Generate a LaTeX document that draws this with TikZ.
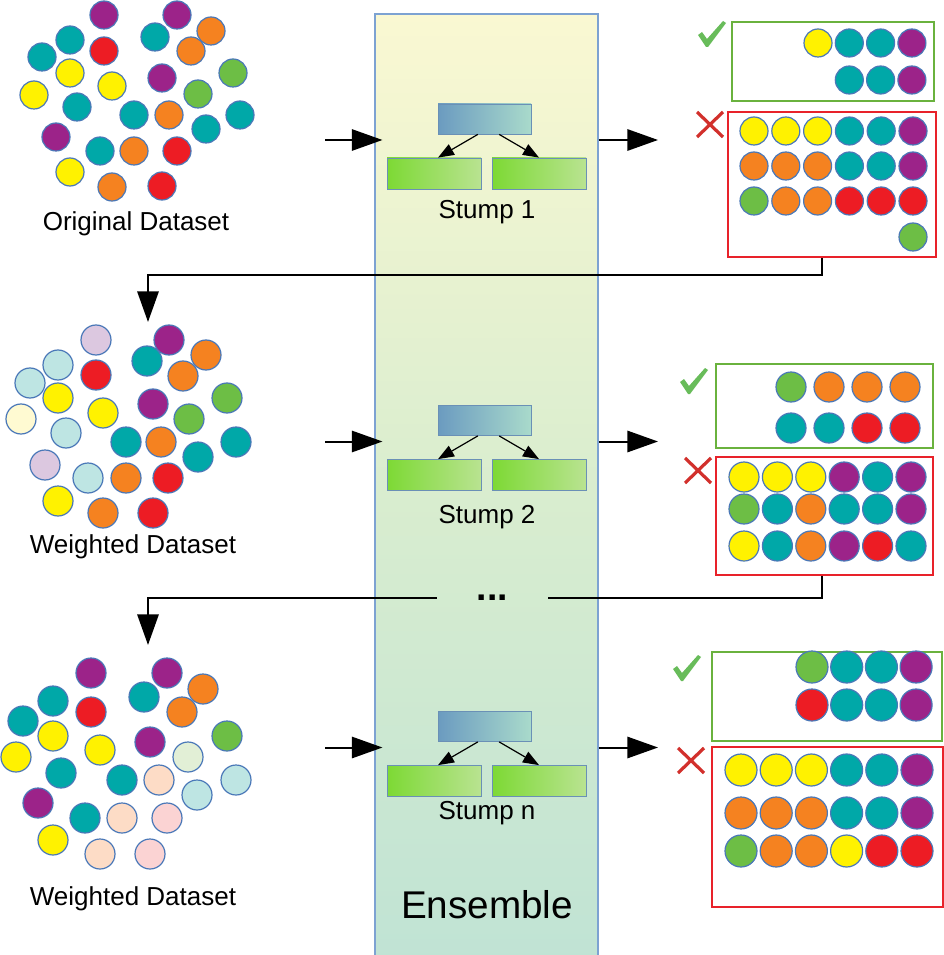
\documentclass[tikz,border=0pt]{standalone}
\usepackage{fontspec}
\setmainfont{Liberation Sans}
\usetikzlibrary{arrows.meta,fit}

\definecolor{tl}{HTML}{00A8A8}
\definecolor{pu}{HTML}{9C2389}
\definecolor{rd}{HTML}{ED1C24}
\definecolor{og}{HTML}{F58220}
\definecolor{ye}{HTML}{FFF200}
\definecolor{gn}{HTML}{6DBE45}
\definecolor{lt}{HTML}{BEE5E3}
\definecolor{lv}{HTML}{DCC8E0}
\definecolor{ly}{HTML}{FFFAD2}
\definecolor{pg}{HTML}{E2EFD6}
\definecolor{pc}{HTML}{FDDCC6}
\definecolor{pk}{HTML}{FBD3D3}
\definecolor{dotrim}{HTML}{4A78B8}
\definecolor{goodgreen}{HTML}{6AB23E}
\definecolor{badred}{HTML}{E8222A}
\definecolor{tickgreen}{HTML}{68BC5A}
\definecolor{crossred}{HTML}{D2302C}
\definecolor{bandtop}{HTML}{FAF8D2}
\definecolor{bandmid}{HTML}{D9EDCF}
\definecolor{bandbot}{HTML}{C0E3D4}
\definecolor{bandline}{HTML}{7DA2D2}
\definecolor{rootleft}{HTML}{6B9BC0}
\definecolor{rootright}{HTML}{A9DACB}
\definecolor{leafleft}{HTML}{7DD934}
\definecolor{leafright}{HTML}{B9E391}
\definecolor{nodeline}{HTML}{6A90B6}

\tikzset{
  dot/.style={draw=dotrim, line width=0.9pt},
  tick/.pic={\fill[tickgreen] (0,14) -- (4,11) -- (9,18) -- (25,0) -- (28,2) -- (10,26) -- (8,26) -- cycle;},
  cross/.pic={\draw[crossred, line width=2.4pt] (0,0) -- (26,25) (26,0) -- (0,25);}
}
\newcommand\dotrow[5]{\foreach \c [count=\i from 0] in {#5} \draw[dot, fill=\c] (#1+#2*\i,#3) circle[radius=#4];}

\begin{document}
\begin{tikzpicture}[x=0.75pt, y=-0.75pt,
  band/.style={draw=bandline, line width=0.8pt, top color=bandtop, bottom color=bandbot, middle color=bandmid, inner sep=0pt},
  root/.style={draw=nodeline, line width=0.6pt, left color=rootleft, right color=rootright, minimum width=69.75pt, minimum height=22.5pt, inner sep=0pt},
  leaf/.style={draw=nodeline, line width=0.6pt, left color=leafleft, right color=leafright, minimum width=70.5pt, minimum height=23.25pt, inner sep=0pt},
  goodbox/.style={draw=goodgreen, line width=1.8pt, inner sep=0pt},
  badbox/.style={draw=badred, line width=1.8pt, inner sep=0pt},
  txt/.style={font=\fontsize{19.5}{23}\selectfont, inner sep=0pt},
  flow/.style={line width=1.5pt, -{Triangle[length=23pt, width=16pt]}},
  twig/.style={line width=0.9pt, -{Triangle[length=12pt, width=9pt]}},
  link/.style={line width=1.5pt}]
\useasboundingbox (0,0) rectangle (944,955);
\fill[white] (0,0) rectangle (944,955);

\node[band, fit={(375,14) (598,962)}] (ens) {};
\node[font=\fontsize{29}{34}\selectfont, inner sep=0pt] (enslabel) at (487,905) {Ensemble};

\foreach \k/\y/\ly in {1/119/212, 2/420.5/517, n/726.5/813}{
  \node[root] (r\k) at (484.5,\y) {};
  \node[leaf] (la\k) at (434,\y+54.5) {};
  \node[leaf] (lb\k) at (539,\y+54.5) {};
  \draw[twig] ([xshift=-5pt]r\k.south) -- ([xshift=3pt]la\k.north);
  \draw[twig] ([xshift=11pt]r\k.south) -- (lb\k.north);
  \node[txt] (s\k) at (487,\ly) {Stump \k};
  \coordinate (in\k) at (325,\y+21);
  \coordinate (out\k) at (658,\y+21);
  \draw[flow] (in\k) -- ([xshift=6pt]in\k -| ens.west);
  \draw[flow] (in\k -| ens.east) -- (out\k);
}

% datasets
\foreach \x/\y/\c in {104/15/pu, 177/15/pu, 211/31/og, 155/37/tl, 70/40/tl, 104/51/rd, 191/51/og,
  42/57/tl, 70/73/ye, 233/73/gn, 162/78/pu, 112/86/ye, 34/95/ye, 198/94/gn, 77/107/tl, 134/115/tl,
  169/115/og, 240/115/tl, 206/129/tl, 56/137/pu, 100/151/tl, 134/151/og, 177/151/rd, 70/172/ye,
  112/187/og, 162/186/rd}
  \draw[dot, fill=\c] (\x,\y) circle[radius=14];
\node[txt] (data0) at (136,224) {Original Dataset};

\foreach \x/\y/\c in {96/340/lv, 169/340/pu, 206/355/og, 147/361/tl, 58/365/lt, 96/375/rd, 183/376/og,
  30/383/lt, 58/398/ye, 227/398/gn, 153/404/pu, 103/413/ye, 21/419/ly, 189/419/gn, 66/433/lt, 126/442/tl,
  161/442/og, 236/442/tl, 198/457/tl, 45/465/lv, 88/478/lt, 126/478/og, 168/478/rd, 58/501/ye,
  103/513/og, 153/513/rd}
  \draw[dot, fill=\c] (\x,\y) circle[radius=15];
\node[txt] (data1) at (133,547) {Weighted Dataset};

\foreach \x/\y/\c in {91/673/pu, 167/673/pu, 203/689/og, 144/697/tl, 53/701/tl, 91/712/rd, 182/712/og,
  23/721/tl, 53/736/ye, 227/736/gn, 150/742/pu, 100/750/ye, 16/757/ye, 188/757/pg, 61/773/tl, 122/780/tl,
  159/780/pc, 236/780/lt, 197/795/lt, 38/803/pu, 85/818/tl, 122/818/pc, 167/818/pk, 53/840/ye,
  100/854/pc, 150/854/pk}
  \draw[dot, fill=\c] (\x,\y) circle[radius=15];
\node[txt] (data2) at (133,899) {Weighted Dataset};

% results
\node[goodbox, fit={(732,22) (934,101)}] (good1) {};
\node[badbox, fit={(728,112) (936,257)}] (bad1) {};
\pic at (698,21) {tick};
\pic at (697,112) {cross};
\dotrow{818}{31.3}{43}{14}{ye,tl,tl,pu}
\dotrow{849.3}{31.3}{80}{14}{tl,tl,pu}
\dotrow{754}{31.8}{131}{14}{ye,ye,ye,tl,tl,pu}
\dotrow{754}{31.8}{166}{14}{og,og,og,tl,tl,pu}
\dotrow{754}{31.8}{201}{14}{gn,og,og,rd,rd,rd}
\dotrow{913}{31.8}{237}{14}{gn}

\node[goodbox, fit={(716,364) (933,448)}] (good2) {};
\node[badbox, fit={(716,457) (933,575)}] (bad2) {};
\pic at (680,368) {tick};
\pic at (685,458) {cross};
\dotrow{791}{38}{387}{15}{gn,og,og,og}
\dotrow{791}{38}{428}{15}{tl,tl,rd,rd}
\dotrow{744}{33.4}{477}{15}{ye,ye,ye,pu,tl,pu}
\dotrow{744}{33.4}{509}{15}{gn,tl,og,tl,tl,pu}
\dotrow{744}{33.4}{546}{15}{ye,tl,og,pu,rd,tl}

\node[goodbox, fit={(712,652) (942,741)}] (good3) {};
\node[badbox, fit={(712,747) (943,907)}] (bad3) {};
\pic at (673,655) {tick};
\pic at (678,748) {cross};
\dotrow{812}{34.7}{667}{16}{gn,tl,tl,pu}
\dotrow{812}{34.7}{705}{16}{rd,tl,tl,pu}
\dotrow{741}{35.2}{770}{16}{ye,ye,ye,tl,tl,pu}
\dotrow{741}{35.2}{813}{16}{og,og,og,tl,tl,pu}
\dotrow{741}{35.2}{851}{16}{gn,og,og,ye,rd,rd}

% feedback
\coordinate (feed1) at (148,322);
\coordinate (feed2) at (148,645);
\draw[flow] (822,0 |- bad1.south) -- (822,275) -| (feed1);
\node[font=\bfseries\fontsize{28}{30}\selectfont, inner sep=0pt, minimum width=83.25pt] (dots) at (492.5,598) {...};
\draw[link] (822,0 |- bad2.south) |- (dots.east);
\draw[flow] (dots.west) -| (feed2);
\end{tikzpicture}
\end{document}
